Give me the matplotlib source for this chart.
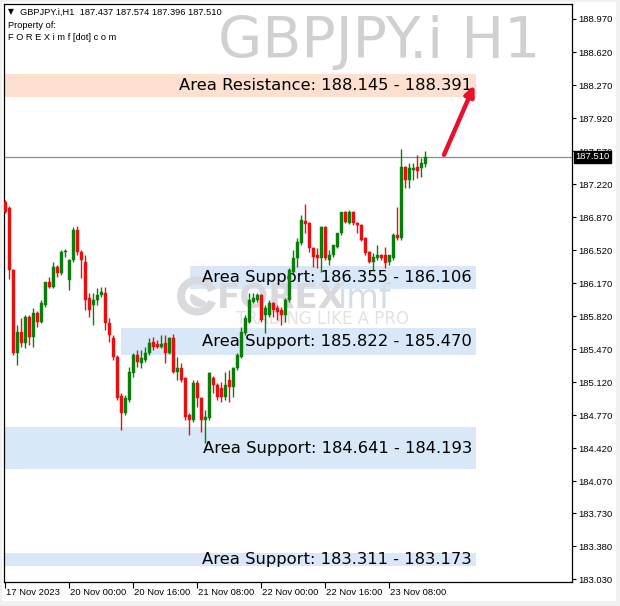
import matplotlib
matplotlib.use("Agg")
import matplotlib.pyplot as plt
from matplotlib.patches import Rectangle, Wedge
from matplotlib.transforms import blended_transform_factory

# H1 candles (oldest first)
opens = [187.030, 186.966, 186.309, 185.429, 185.652, 185.535, 185.811, 185.599, 185.853, 185.758,
         185.938, 186.182, 186.129, 186.341, 186.277, 186.500, 186.203, 186.415, 186.733, 186.500,
         186.394, 186.012, 185.938, 185.991, 186.044, 186.065, 185.747, 185.588, 185.387, 184.973,
         184.793, 184.931, 185.218, 185.408, 185.324, 185.355, 185.429, 185.546, 185.524, 185.493,
         185.535, 185.429, 185.588, 185.228, 185.271, 185.164, 184.772, 184.719, 185.111, 184.952,
         184.719, 184.740, 185.164, 185.090, 185.058, 184.963, 185.143, 185.069, 185.271, 185.387,
         185.641, 185.758, 185.970, 185.991, 186.044, 185.832, 185.832, 185.959, 185.906, 185.885,
         185.832, 185.991, 186.288, 186.436, 186.595, 186.828, 186.807, 186.542, 186.468, 186.436,
         186.765, 186.415, 186.468, 186.553, 186.701, 186.924, 186.807, 186.924, 186.807, 186.786,
         186.648, 186.500, 186.394, 186.436, 186.468, 186.468, 186.394, 186.436, 186.680, 186.648,
         187.401, 187.263, 187.369, 187.401, 187.390, 187.437]
highs = [187.051, 186.987, 186.320, 185.726, 185.800, 185.832, 185.832, 185.906, 185.874, 185.991,
         186.185, 186.235, 186.394, 186.362, 186.521, 186.533, 186.420, 186.765, 186.775, 186.521,
         186.468, 186.065, 186.065, 186.118, 186.129, 186.129, 185.800, 185.620, 185.408, 185.005,
         184.984, 185.281, 185.429, 185.461, 185.461, 185.493, 185.588, 185.599, 185.567, 185.620,
         185.620, 185.599, 185.631, 185.387, 185.324, 185.175, 184.793, 185.143, 185.143, 184.963,
         184.825, 185.228, 185.186, 185.111, 185.122, 185.228, 185.249, 185.281, 185.429, 185.705,
         185.832, 186.065, 186.065, 186.065, 186.054, 185.938, 185.991, 185.970, 185.938, 185.917,
         186.012, 186.330, 186.521, 186.648, 186.892, 187.009, 186.818, 186.553, 186.542, 186.770,
         186.775, 186.521, 186.574, 186.701, 186.924, 186.935, 186.945, 186.935, 186.818, 186.797,
         186.659, 186.510, 186.489, 186.574, 186.479, 186.553, 186.468, 186.701, 186.977, 187.592,
         187.411, 187.443, 187.443, 187.528, 187.496, 187.574]
lows = [186.913, 186.214, 185.408, 185.302, 185.493, 185.482, 185.514, 185.493, 185.705, 185.747,
        185.917, 186.118, 186.118, 186.235, 186.256, 186.447, 186.097, 186.394, 186.468, 186.224,
        185.885, 185.811, 185.726, 185.938, 186.023, 185.673, 185.546, 185.355, 184.931, 184.613,
        184.772, 184.910, 185.175, 185.281, 185.271, 185.334, 185.408, 185.461, 185.482, 185.482,
        185.324, 185.418, 185.218, 185.143, 185.122, 184.719, 184.560, 184.698, 184.857, 184.592,
        184.475, 184.719, 185.005, 184.931, 184.910, 184.931, 184.910, 184.963, 185.249, 185.376,
        185.620, 185.747, 185.959, 185.970, 185.758, 185.641, 185.811, 185.811, 185.779, 185.726,
        185.758, 185.970, 186.277, 186.341, 186.574, 186.701, 186.500, 186.341, 186.330, 186.288,
        186.415, 186.362, 186.447, 186.542, 186.680, 186.807, 186.797, 186.786, 186.701, 186.616,
        186.468, 186.383, 186.309, 186.415, 186.415, 186.330, 186.362, 186.415, 186.627, 186.627,
        187.178, 187.178, 187.263, 187.284, 187.295, 187.396]
closes = [186.924, 186.309, 185.429, 185.652, 185.535, 185.811, 185.599, 185.853, 185.758, 185.959,
          186.182, 186.129, 186.341, 186.277, 186.500, 186.510, 186.415, 186.733, 186.500, 186.415,
          185.991, 185.885, 185.991, 186.044, 186.076, 185.747, 185.620, 185.387, 184.952, 184.793,
          184.952, 185.228, 185.408, 185.334, 185.377, 185.429, 185.535, 185.493, 185.493, 185.524,
          185.429, 185.588, 185.228, 185.271, 185.143, 184.751, 184.719, 185.111, 184.952, 184.719,
          184.751, 185.218, 185.090, 184.963, 184.963, 185.090, 185.069, 185.271, 185.408, 185.652,
          185.800, 185.991, 186.012, 186.044, 185.779, 185.906, 185.959, 185.885, 185.864, 185.832,
          185.991, 186.309, 186.436, 186.606, 186.839, 186.797, 186.542, 186.447, 186.436, 186.765,
          186.436, 186.468, 186.574, 186.701, 186.924, 186.818, 186.924, 186.807, 186.786, 186.627,
          186.489, 186.394, 186.447, 186.468, 186.436, 186.383, 186.468, 186.680, 186.648, 187.401,
          187.263, 187.390, 187.390, 187.358, 187.443, 187.510]

price_ticks = [188.970, 188.620, 188.270, 187.920, 187.570, 187.220, 186.870, 186.520, 186.170,
               185.820, 185.470, 185.120, 184.770, 184.420, 184.070, 183.730, 183.380, 183.030]
time_tick_bars = [0, 16, 32, 48, 64, 80, 96]
time_labels = ["17 Nov 2023", "20 Nov 00:00", "20 Nov 16:00", "21 Nov 08:00",
               "22 Nov 00:00", "22 Nov 16:00", "23 Nov 08:00"]

# zones as drawn (low, high) and their captions
zone_low = [188.145, 186.106, 185.41, 184.193, 183.173]
zone_high = [188.391, 186.355, 185.69, 184.641, 183.311]
zone_text = ["Area Resistance: 188.145 - 188.391", "Area Support: 186.355 - 186.106",
             "Area Support: 185.822 - 185.470", "Area Support: 184.641 - 184.193",
             "Area Support: 183.311 - 183.173"]
zone_kind = ["res", "sup", "sup", "sup", "sup"]
zone_start = [-0.3, 46.2, 29.0, -0.3, -0.3]
zone_end = 117.7

W, H = 620, 606
BULL, BEAR = "#0b7d0b", "#e61010"

fig = plt.figure(figsize=(W / 100, H / 100), dpi=100, facecolor="#f0f0f0")
fig.patches.append(Rectangle((2 / W, 5 / H), 614 / W, 599 / H, transform=fig.transFigure,
                             facecolor="white", edgecolor="none", zorder=-5))

def px(x, y):
    return x / W, 1 - y / H

ax = fig.add_axes([4 / W, 24 / H, 568 / W, 578 / H])
ax.set_facecolor("white")
ax.set_xlim(-0.3, 141.7)
ax.set_ylim(183.0, 189.129)
for s in ax.spines.values():
    s.set_color("black")
    s.set_linewidth(0.9)

# zones
for lo, hi, txt, kind, x0 in zip(zone_low, zone_high, zone_text, zone_kind, zone_start):
    col = "#fde0d0" if kind == "res" else "#d8e8f8"
    ax.add_patch(Rectangle((x0, lo), zone_end - x0, hi - lo, facecolor=col,
                           edgecolor="none", zorder=1))
    ax.text(zone_end - 1.0, (lo + hi) / 2, txt, ha="right", va="center",
            fontsize=11.8, color="black", zorder=2)

# FOREXimf watermark (inside the axes so candles stay on top)
ftr = fig.transFigure
ax.add_patch(Wedge(px(197, 296), 20 / W, 20, 340, width=8 / W, transform=ftr,
                   facecolor="#dadade", edgecolor="none", zorder=1.5))
ax.add_patch(Wedge(px(199, 298), 9 / W, 150, 330, transform=ftr,
                   facecolor="#dadade", edgecolor="none", zorder=1.5))
ax.text(*px(217, 298), "FOREX", transform=ftr, fontsize=24.5, fontweight="bold",
        color="#d9d9dd", ha="left", va="center", zorder=1.5)
ax.text(*px(338, 298), "imf", transform=ftr, fontsize=24, color="#d3dee9",
        ha="left", va="center", zorder=1.5)
ax.text(*px(236, 319), "TRADING LIKE A PRO", transform=ftr, fontsize=12, color="#e2e2e2",
        ha="left", va="center", zorder=1.5)

# symbol watermark
ax.text(*px(540, 42), "GBPJPY.i H1", transform=ftr, fontsize=41, color="#d0d0d0",
        ha="right", va="center", zorder=0.5)

# candles
for i, (o, h, l, c) in enumerate(zip(opens, highs, lows, closes)):
    col = BULL if c >= o else BEAR
    ax.vlines(i, l, h, color=col, lw=1.0, zorder=3)
    ax.bar(i, max(abs(c - o), 0.008), bottom=min(o, c), width=0.72, color=col,
           edgecolor=col, linewidth=0.3, zorder=3)

# current price line and label
last = closes[-1]
ax.axhline(last, color="#7f8fa0", lw=0.9, zorder=2.5)
trans_r = blended_transform_factory(ax.transAxes, ax.transData)
ax.text(1.006, last, f"{last:.3f}", transform=trans_r, ha="left", va="center",
        fontsize=6.8, family="Liberation Sans", color="white", zorder=5,
        bbox=dict(boxstyle="square,pad=0.15", facecolor="black", edgecolor="black"))

# red arrow
ax.annotate("", xy=(117.3, 188.27), xytext=(109.7, 187.53),
            arrowprops=dict(arrowstyle="-|>,head_width=0.28,head_length=0.6",
                            lw=3.2, color="#e8102a", shrinkA=0, shrinkB=0), zorder=4)

# axes ticks
ax.yaxis.tick_right()
ax.set_yticks(price_ticks)
ax.set_yticklabels([f"{v:.3f}" for v in price_ticks], fontsize=6.8, family="Liberation Sans")
ax.tick_params(axis="y", length=3, width=0.8, pad=1.5)
ax.set_xticks(time_tick_bars)
ax.set_xticklabels([])
ax.tick_params(axis="x", length=4, width=0.8, direction="out")
trans_b = blended_transform_factory(ax.transData, ax.transAxes)
for b, lab in zip(time_tick_bars, time_labels):
    ax.text(b + 0.1, -0.018, lab, transform=trans_b, ha="left", va="center",
            fontsize=6.8, family="Liberation Sans", color="black")

# header
fig.text(*px(8, 12), "\u25bc", fontsize=5.5, ha="left", va="center")
fig.text(*px(20, 12),
         f"GBPJPY.i,H1  {opens[-1]:.3f} {highs[-1]:.3f} {lows[-1]:.3f} {closes[-1]:.3f}",
         fontsize=6.7, family="Liberation Sans", ha="left", va="center")
fig.text(*px(8, 25), "Property of:", fontsize=6.7, family="Liberation Sans", ha="left", va="center")
fig.text(*px(8, 38), "F O R E X i m f [dot] c o m", fontsize=6.7, family="Liberation Sans",
         ha="left", va="center")

fig.savefig("out.png", dpi=100, facecolor=fig.get_facecolor())
